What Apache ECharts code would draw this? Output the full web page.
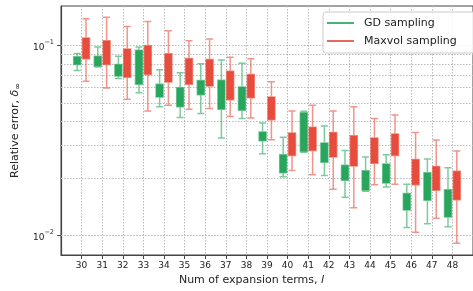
<!DOCTYPE html>
<html>
<head>
<meta charset="utf-8">
<script src="https://cdn.jsdelivr.net/npm/echarts@6/dist/echarts.min.js"></script>
<style>
    html, body { margin: 0; padding: 0; background: #fff; }
    #chart { width: 473px; height: 291px; }
</style>
</head>
<body>
<div id="chart"></div>
<script>
var terms = [30, 31, 32, 33, 34, 35, 36, 37, 38, 39, 40, 41, 42, 43, 44, 45, 46, 47, 48];

// GD sampling: whisker low, Q1, median, Q3, whisker high
var gdLow  = [0.0740, 0.0772, 0.0672, 0.0565, 0.0477, 0.0418, 0.0439, 0.0326, 0.0413, 0.0269, 0.0204, 0.0274, 0.0207, 0.0159, 0.0171, 0.0180, 0.0110, 0.0115, 0.0111];
var gdQ1   = [0.0795, 0.0779, 0.0691, 0.0625, 0.0536, 0.0476, 0.0551, 0.0462, 0.0457, 0.0315, 0.0214, 0.0277, 0.0243, 0.0195, 0.0173, 0.0189, 0.0136, 0.0153, 0.0125];
var gdMed  = [0.0835, 0.0866, 0.0734, 0.0858, 0.0607, 0.0522, 0.0589, 0.0550, 0.0534, 0.0335, 0.0238, 0.0327, 0.0278, 0.0208, 0.0190, 0.0206, 0.0145, 0.0168, 0.0144];
var gdQ3   = [0.0873, 0.0879, 0.0795, 0.0945, 0.0625, 0.0600, 0.0656, 0.0658, 0.0606, 0.0351, 0.0266, 0.0443, 0.0307, 0.0234, 0.0219, 0.0238, 0.0166, 0.0214, 0.0174];
var gdHigh = [0.0908, 0.0985, 0.0879, 0.0985, 0.0746, 0.0720, 0.0802, 0.0839, 0.0808, 0.0391, 0.0329, 0.0451, 0.0377, 0.0280, 0.0259, 0.0266, 0.0186, 0.0253, 0.0227];

// Maxvol sampling
var mvLow  = [0.0649, 0.0598, 0.0522, 0.0453, 0.0485, 0.0462, 0.0466, 0.0423, 0.0415, 0.0319, 0.0220, 0.0209, 0.0175, 0.0140, 0.0185, 0.0186, 0.0104, 0.0123, 0.0091];
var mvQ1   = [0.0852, 0.0795, 0.0682, 0.0705, 0.0643, 0.0625, 0.0613, 0.0518, 0.0532, 0.0407, 0.0264, 0.0280, 0.0259, 0.0232, 0.0240, 0.0264, 0.0185, 0.0173, 0.0154];
var mvMed  = [0.0953, 0.0905, 0.0812, 0.0805, 0.0742, 0.0711, 0.0705, 0.0600, 0.0617, 0.0450, 0.0306, 0.0338, 0.0309, 0.0274, 0.0280, 0.0287, 0.0218, 0.0199, 0.0184];
var mvQ3   = [0.1097, 0.1062, 0.0961, 0.1000, 0.0905, 0.0855, 0.0845, 0.0734, 0.0705, 0.0536, 0.0346, 0.0371, 0.0349, 0.0335, 0.0326, 0.0342, 0.0251, 0.0231, 0.0218];
var mvHigh = [0.1384, 0.1413, 0.1262, 0.1339, 0.1198, 0.1062, 0.1084, 0.0868, 0.0852, 0.0646, 0.0453, 0.0485, 0.0453, 0.0477, 0.0413, 0.0431, 0.0349, 0.0318, 0.0278];

var yTicks = [0.01, 0.1];
var yGrid = [0.009, 0.01, 0.02, 0.03, 0.04, 0.05, 0.06, 0.07, 0.08, 0.09, 0.1];

function boxData(lo, q1, med, q3, hi) {
    return terms.map(function (t, i) {
        return [t, lo[i], q1[i], med[i], q3[i], hi[i]];
    });
}

var gridLine = { color: '#bbb', width: 1, type: [1.5, 1.5] };

var chart = echarts.init(document.getElementById('chart'));
var option = {
    animation: false,
    textStyle: { fontFamily: 'DejaVu Sans', color: '#222' },
    grid: {
        left: 61,
        top: 6,
        right: -12,
        bottom: 34,
        show: true,
        borderColor: '#444',
        borderWidth: 1
    },
    legend: {
        orient: 'vertical',
        left: 323,
        top: 12,
        padding: [4, 24, 5, 4],
        itemGap: 4,
        itemWidth: 27,
        itemHeight: 2,
        icon: 'rect',
        borderColor: '#ccc',
        borderWidth: 1,
        borderRadius: 3,
        backgroundColor: 'rgba(255,255,255,0.85)',
        textStyle: { fontSize: 11, color: '#222', lineHeight: 14, padding: [0, 0, 0, 5] },
        itemStyle: { borderWidth: 0 },
        data: [
            { name: 'GD sampling', itemStyle: { color: 'rgba(39,166,96,0.85)', borderWidth: 0 } },
            { name: 'Maxvol sampling', itemStyle: { color: 'rgba(231,76,60,0.85)', borderWidth: 0 } }
        ]
    },
    xAxis: {
        type: 'value',
        min: 29,
        max: 49,
        interval: 1,
        name: 'Num of expansion terms, {i|l}',
        nameLocation: 'middle',
        nameGap: 20,
        nameTextStyle: {
            fontSize: 11,
            color: '#222',
            padding: [0, 31, 0, 0],
            rich: { i: { fontSize: 11, fontStyle: 'italic', color: '#222' } }
        },
        axisLine: { lineStyle: { color: '#444', width: 1.2 } },
        axisTick: { show: true, length: 4, lineStyle: { color: '#444' }, customValues: terms },
        axisLabel: { fontSize: 9, color: '#222', margin: 6, customValues: terms },
        splitLine: { show: true, lineStyle: gridLine }
    },
    yAxis: {
        type: 'log',
        logBase: 10,
        min: 0.00788,
        max: 0.1618,
        name: 'Relative error, {d|δ}{s|∞}',
        nameLocation: 'middle',
        nameGap: 30,
        nameTextStyle: {
            fontSize: 11,
            color: '#222',
            rich: {
                d: { fontSize: 11, fontStyle: 'italic', color: '#222' },
                s: { fontSize: 8, color: '#222', padding: [6, 0, 0, 0] }
            }
        },
        axisLine: { show: true, lineStyle: { color: '#444', width: 1.2 } },
        axisTick: { show: true, length: 4, lineStyle: { color: '#444' }, customValues: yTicks },
        axisLabel: {
            fontSize: 9,
            color: '#222',
            margin: 7,
            customValues: yTicks,
            formatter: function (v) {
                var e = Math.round(Math.log(v) / Math.LN10);
                return '{b|10}{sup|\u2212' + (-e) + '}';
            },
            rich: {
                b: { fontSize: 9, color: '#222', lineHeight: 13, verticalAlign: 'bottom' },
                sup: { fontSize: 6.5, color: '#222', lineHeight: 13, verticalAlign: 'top' }
            }
        },
        splitLine: { show: false }
    },
    series: [
        {
            name: 'GD sampling',
            type: 'boxplot',
            boxWidth: [7, 7],
            itemStyle: {
                color: '#28a65e',
                borderColor: 'rgba(40,166,94,0.6)',
                borderWidth: 1.5
            },
            data: boxData(gdLow, gdQ1, gdMed, gdQ3, gdHigh),
            markLine: {
                silent: true,
                z: 1,
                symbol: 'none',
                label: { show: false },
                lineStyle: gridLine,
                data: yGrid.map(function (v) { return { yAxis: v }; })
            }
        },
        {
            name: 'Maxvol sampling',
            type: 'boxplot',
            boxWidth: [7, 7],
            itemStyle: {
                color: '#e74c3c',
                borderColor: 'rgba(231,76,60,0.6)',
                borderWidth: 1.5
            },
            data: boxData(mvLow, mvQ1, mvMed, mvQ3, mvHigh)
        }
    ]
};
chart.setOption(option);
</script>
</body>
</html>
